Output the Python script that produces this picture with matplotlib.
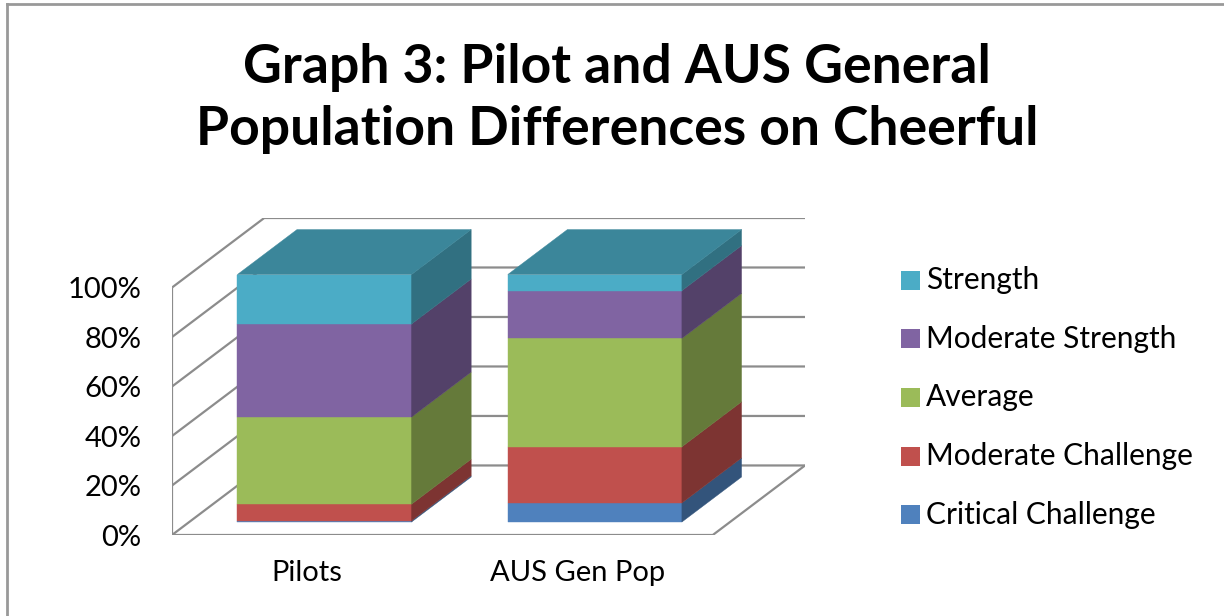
import matplotlib.pyplot as plt
from matplotlib.patches import Polygon, Rectangle
from matplotlib.lines import Line2D
from matplotlib.colors import to_rgb

# data (percent of each group)
categories = ["Pilots", "AUS Gen Pop"]
series = ["Critical Challenge", "Moderate Challenge", "Average",
          "Moderate Strength", "Strength"]
colors = ["#4F81BD", "#C0504D", "#9BBB59", "#8064A2", "#4BACC6"]
pilots = [0.5, 6.7, 35.2, 37.6, 20.0]
aus_gen_pop = [7.7, 22.7, 43.8, 19.3, 6.5]
y_ticks = [0, 20, 40, 60, 80, 100]
title_lines = ["Graph 3: Pilot and AUS General",
               "Population Differences on Cheerful"]

plt.rcParams['font.family'] = ['Lato', 'DejaVu Sans']

W, H = 1224, 616
fig = plt.figure(figsize=(W / 100, H / 100), dpi=100)


def px_rect(x0, y0, x1, y1):
    # pixel box (top-left origin) -> figure fraction rect
    return [x0 / W, 1 - y1 / H, (x1 - x0) / W, (y1 - y0) / H]


def shade(c, f):
    return tuple(v * f for v in to_rgb(c))


# fake 3D: depth vector of the floor in data units
DX, DY = 0.341, 28.1
d0, d1 = 0.187, 0.834   # front / back depth of the bars
bw = 0.644

ax = fig.add_axes(px_rect(172, 218, 805, 535))
ax.set_xlim(-0.5, 1.5 + DX)
ax.set_ylim(0, 100 + DY)
for s in ax.spines.values():
    s.set_visible(False)

grid = dict(color="#8c8c8c", lw=1.6, solid_capstyle="butt", zorder=1)
# walls and gridlines
for v in y_ticks:
    ax.plot([-0.5, -0.5 + DX, 1.5 + DX], [v, v + DY, v + DY], **grid)
ax.plot([-0.5, -0.5], [0, 100], **grid)
# floor
ax.plot([-0.5, 1.5, 1.5 + DX], [0, 0, DY], **grid)

for i, vals in enumerate([pilots, aus_gen_pop]):
    xc = i + d0 * DX
    xr = xc + bw / 2
    ddx = (d1 - d0) * DX
    ddy = (d1 - d0) * DY
    base = 0
    for v, c in zip(vals, colors):
        ax.bar(xc, v, width=bw, bottom=base + d0 * DY, color=c,
               edgecolor=c, linewidth=0.3, zorder=3)
        side = [(xr, base + d0 * DY), (xr + ddx, base + d1 * DY),
                (xr + ddx, base + v + d1 * DY), (xr, base + v + d0 * DY)]
        ax.add_patch(Polygon(side, closed=True, facecolor=shade(c, 0.65),
                             edgecolor=shade(c, 0.65), lw=0.3, zorder=3))
        base += v
    top_c = shade(colors[-1], 0.78)
    top_y = base + d0 * DY
    top = [(xr - bw, top_y), (xr, top_y), (xr + ddx, top_y + ddy),
           (xr - bw + ddx, top_y + ddy)]
    ax.add_patch(Polygon(top, closed=True, facecolor=top_c,
                         edgecolor=top_c, lw=0.3, zorder=4))

ax.set_yticks(y_ticks, [f"{v}%" for v in y_ticks])
ax.set_xticks(range(len(categories)), categories)
ax.tick_params(axis="both", length=0, labelsize=21)
ax.tick_params(axis="y", pad=22)
ax.tick_params(axis="x", pad=18)

# legend (top to bottom: Strength ... Critical Challenge)
for k, (name, c) in enumerate(zip(series[::-1], colors[::-1])):
    yc = 280 + k * 58.7
    fig.patches.append(Rectangle((901 / W, 1 - (yc + 9.5) / H), 19 / W, 19 / H,
                                 transform=fig.transFigure, facecolor=c,
                                 edgecolor="none"))
    fig.text(926 / W, 1 - yc / H, name, fontsize=21.5, va="center", ha="left")

for line, base_y in zip(title_lines, [83, 145]):
    fig.text(617 / W, 1 - base_y / H, line, fontsize=38.5, fontweight="bold",
             ha="center", va="baseline")

# chart border (only top and left edges fall inside the picture)
border = dict(color="#999999", lw=2, transform=fig.transFigure)
fig.add_artist(Line2D([7 / W, 7 / W], [0, 1 - 4 / H], **border))
fig.add_artist(Line2D([7 / W, 1], [1 - 4 / H, 1 - 4 / H], **border))

fig.savefig("out.png", dpi=100)
